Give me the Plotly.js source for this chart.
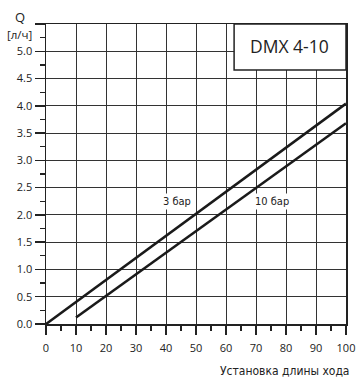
<!DOCTYPE html>
<html>
<head>
<meta charset="utf-8">
<script src="https://cdn.plot.ly/plotly-3.0.1.min.js"></script>
<style>html,body{margin:0;padding:0;background:#fff;}#chart{width:356px;height:379px;}</style>
</head>
<body>
<div id="chart"></div>
<script>
// Data
const stroke3bar = [0, 100];
const flow3bar = [0, 4.04];
const stroke10bar = [10, 100];
const flow10bar = [0.12, 3.68];
const xTickVals = [0, 10, 20, 30, 40, 50, 60, 70, 80, 90, 100];
const yTickVals = [0, 0.5, 1, 1.5, 2, 2.5, 3, 3.5, 4, 4.5, 5, 5.5];
const yTickText = ["0.0","0.5","1.0","1.5","2.0","2.5","3.0","3.5","4.0","4.5","5.0",""];
const seriesLabels = ["3 бар", "10 бар"];
const modelName = "DMX 4-10";

const lineStyle = {color: '#1a1a1a', width: 2.6};
const traces = [
  {x: stroke3bar, y: flow3bar, mode: 'lines', line: lineStyle, hoverinfo: 'skip'},
  {x: stroke10bar, y: flow10bar, mode: 'lines', line: lineStyle, hoverinfo: 'skip'}
];

const tickFont = {family: 'Open Sans, sans-serif', size: 11, color: '#222'};
const narrow = 'DejaVu Sans Condensed';
const layout = {
  width: 356, height: 379,
  margin: {l: 46, r: 10, t: 24, b: 55},
  paper_bgcolor: '#fff', plot_bgcolor: '#fff',
  showlegend: false,
  xaxis: {
    range: [0, 100], tickvals: xTickVals, ticktext: xTickVals.map(String),
    ticks: 'outside', ticklen: 9, tickwidth: 1.5, tickcolor: '#222',
    showgrid: true, gridcolor: '#333', gridwidth: 1,
    showline: true, linecolor: '#222', linewidth: 1.5, mirror: true,
    zeroline: false, tickfont: tickFont, ticklabelstandoff: 4,
    minor: {dtick: 5, tick0: 0, ticks: 'outside', ticklen: 5, tickcolor: '#222', tickwidth: 1.2, showgrid: false}
  },
  yaxis: {
    range: [0, 5.5], tickvals: yTickVals, ticktext: yTickText,
    ticks: 'outside', ticklen: 10, tickwidth: 1.5, tickcolor: '#222',
    showgrid: true, gridcolor: '#333', gridwidth: 1,
    showline: true, linecolor: '#222', linewidth: 1.5, mirror: true,
    zeroline: false, tickfont: tickFont,
    minor: {dtick: 0.25, tick0: 0, ticks: 'outside', ticklen: 5, tickcolor: '#222', tickwidth: 1.2, showgrid: false}
  },
  shapes: [
    {type: 'rect', xref: 'paper', yref: 'paper', x0: 0.627, x1: 1, y0: 0.847, y1: 1,
     fillcolor: '#fff', line: {color: '#222', width: 1.5}, layer: 'above'}
  ],
  annotations: [
    {xref: 'paper', yref: 'paper', x: 0.81, y: 0.927, text: modelName, showarrow: false,
     font: {family: 'Open Sans, sans-serif', size: 17.5, color: '#222'}, xanchor: 'center', yanchor: 'middle'},
    {xref: 'x', yref: 'y', x: 43.5, y: 2.25, text: seriesLabels[0], showarrow: false,
     font: {family: narrow, size: 11, color: '#222'}, bgcolor: '#fff'},
    {xref: 'x', yref: 'y', x: 75.3, y: 2.25, text: seriesLabels[1], showarrow: false,
     font: {family: narrow, size: 11, color: '#222'}, bgcolor: '#fff'},
    {xref: 'paper', yref: 'paper', x: 1.017, y: -0.157, text: 'Установка длины хода', showarrow: false,
     xanchor: 'right', yanchor: 'middle',
     font: {family: narrow, size: 12, color: '#222'}},
    {xref: 'paper', yref: 'paper', x: -0.087, y: 1.022, text: 'Q', showarrow: false,
     xanchor: 'center', yanchor: 'middle', font: {family: 'Open Sans, sans-serif', size: 13, color: '#222'}},
    {xref: 'paper', yref: 'paper', x: -0.087, y: 0.966, text: '[л/ч]', showarrow: false,
     xanchor: 'center', yanchor: 'middle', font: {family: 'Open Sans, sans-serif', size: 11.5, color: '#222'}}
  ]
};

Plotly.newPlot('chart', traces, layout, {staticPlot: true, displayModeBar: false});
</script>
</body>
</html>
